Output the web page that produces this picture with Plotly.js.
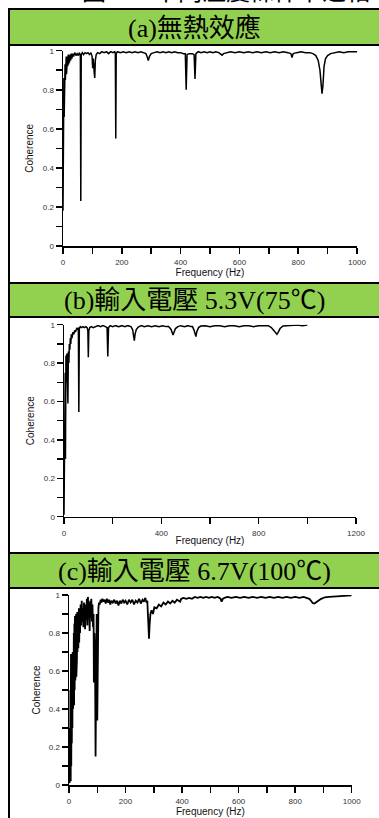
<!DOCTYPE html>
<html><head><meta charset="utf-8">
<script src="https://cdn.plot.ly/plotly-3.0.1.min.js"></script>
<style>html,body{margin:0;padding:0;background:#fff;overflow:hidden}#chart{width:379px;height:818px}</style>
</head><body><div id="chart"></div>
<script>
// ---- data: panel (a) 無熱效應 ----
const aFreq = [0,1,2,3,4,5,6,7,8,9,
  10,11,12,13,14,15,16,18,19,21,
  22,24,26,28,30,33,36,40,44,48,
  52,56,59,60.5,62,66,70,75,80,85,
  90,95,99,101,103,106,108,110,113,118,
  125,132,140,148,155,162,170,176,178,179.5,
  181,185,195,205,215,225,235,245,255,265,
  275,282,286,290,294,300,310,320,330,340,
  350,360,370,380,390,400,410,416,419,422,
  430,440,446,449,452,460,470,480,490,500,
  510,520,530,536,541,546,555,570,585,600,
  615,630,645,660,675,690,705,720,735,750,
  765,775,779,783,795,810,825,840,850,860,
  868,874,878,881,884,888,893,900,910,925,
  940,955,970,985,1000];
const aCoh = [0.18,0.72,0.4,0.86,0.66,0.9,0.78,0.93,0.85,0.96,
  0.87,0.97,0.88,0.95,0.9,0.97,0.92,0.98,0.93,0.975,
  0.94,0.98,0.95,0.985,0.96,0.985,0.97,0.99,0.975,0.985,
  0.975,0.99,0.975,0.23,0.98,0.99,0.98,0.99,0.985,0.99,
  0.98,0.99,0.97,0.91,0.96,0.89,0.86,0.95,0.98,0.99,
  0.985,0.995,0.99,0.995,0.985,0.995,0.99,0.995,0.985,0.55,
  0.985,0.995,0.99,0.995,0.99,0.995,0.99,0.995,0.99,0.995,
  0.99,0.985,0.97,0.95,0.97,0.985,0.99,0.995,0.99,0.995,
  0.99,0.995,0.99,0.995,0.99,0.99,0.985,0.985,0.8,0.98,
  0.985,0.985,0.98,0.855,0.985,0.995,0.99,0.995,0.99,0.995,
  0.99,0.995,0.99,0.985,0.977,0.985,0.99,0.995,0.99,0.995,
  0.99,0.995,0.99,0.995,0.99,0.995,0.99,0.995,0.99,0.995,
  0.99,0.985,0.965,0.985,0.99,0.995,0.99,0.99,0.985,0.975,
  0.95,0.9,0.83,0.78,0.82,0.92,0.96,0.975,0.985,0.99,
  0.995,0.99,0.995,0.995,0.995];

// ---- data: panel (b) 輸入電壓 5.3V(75℃) ----
const bFreq = [0,2,3,5,6,8,10,12,14,16,
  18,20,22,24,26,28,30,33,36,40,
  44,48,52,56,59,61,63,67,72,78,
  84,90,95,98,100,102,106,112,120,130,
  140,150,160,170,177,180,183,190,200,212,
  225,238,250,262,275,282,286,289,292,297,
  305,318,330,345,360,375,390,405,420,430,
  440,445,448,452,458,468,480,495,510,520,
  528,535,540,542,546,553,562,580,600,620,
  640,660,680,700,720,740,760,780,800,820,
  840,852,862,870,875,880,888,900,920,940,
  960,980,1000];
const bCoh = [0.01,0.6,0.1,0.75,0.3,0.84,0.7,0.85,0.62,0.59,
  0.86,0.8,0.9,0.87,0.93,0.9,0.95,0.93,0.96,0.95,
  0.97,0.965,0.98,0.975,0.985,0.545,0.98,0.99,0.985,0.99,
  0.985,0.99,0.985,0.97,0.83,0.97,0.985,0.99,0.985,0.99,
  0.995,0.99,0.995,0.99,0.985,0.835,0.985,0.995,0.99,0.995,
  0.99,0.995,0.99,0.995,0.99,0.975,0.95,0.917,0.95,0.975,
  0.988,0.995,0.99,0.995,0.99,0.995,0.99,0.995,0.99,0.99,
  0.975,0.955,0.946,0.96,0.98,0.99,0.995,0.99,0.995,0.99,
  0.99,0.97,0.945,0.938,0.965,0.985,0.993,0.995,0.99,0.995,
  0.995,0.99,0.995,0.995,0.99,0.995,0.995,0.99,0.995,0.995,
  0.995,0.985,0.97,0.955,0.95,0.96,0.98,0.993,0.995,0.995,
  0.998,0.995,0.998];

// ---- data: panel (c) 輸入電壓 6.7V(100℃) ----
const cFreq = [0,1,2,3,4,5,6,7,8,9,
  10,11,12,13,14,15,16,17,18,19,
  20,21,22,23,24,25,26,27,28,29,
  30,32,33,35,36,38,39,41,43,45,
  47,49,51,53,55,57,59,61,63,65,
  67,69,71,73,75,77,79,81,83,85,
  87,88,90,92,94,96,98,100,102,104,
  106,109,112,115,118,122,126,130,134,138,
  142,146,150,155,160,165,170,175,180,185,
  190,195,200,206,212,218,224,230,236,242,
  248,254,260,265,270,274,277,280,282,283,
  285,288,292,297,302,310,318,326,334,342,
  350,358,366,374,382,390,393,397,405,415,
  425,435,445,455,465,475,485,495,505,515,
  525,532,536,540,544,550,560,575,590,605,
  620,635,650,665,680,695,710,725,740,755,
  770,785,800,815,830,840,850,856,862,868,
  874,882,892,905,920,935,950,965,980,1000];
const cCoh = [0.02,0.05,0.01,0.3,0.03,0.5,0.02,0.69,0.1,0.6,
  0.22,0.68,0.3,0.7,0.4,0.66,0.45,0.8,0.42,0.85,
  0.5,0.89,0.55,0.87,0.58,0.9,0.57,0.88,0.66,0.91,
  0.7,0.9,0.72,0.93,0.75,0.92,0.8,0.95,0.84,0.97,
  0.86,0.93,0.83,0.96,0.85,0.82,0.95,0.87,0.98,0.84,
  0.99,0.9,0.96,0.81,0.97,0.88,0.98,0.86,0.95,0.83,
  0.9,0.54,0.8,0.7,0.15,0.82,0.9,0.34,0.88,0.93,
  0.96,0.95,0.975,0.96,0.98,0.965,0.975,0.955,0.98,0.96,
  0.975,0.95,0.97,0.96,0.975,0.955,0.97,0.945,0.97,0.955,
  0.975,0.96,0.97,0.95,0.975,0.96,0.975,0.95,0.97,0.96,
  0.98,0.955,0.975,0.965,0.985,0.96,0.97,0.9,0.8,0.77,
  0.84,0.9,0.92,0.9,0.935,0.93,0.95,0.94,0.96,0.95,
  0.965,0.955,0.97,0.96,0.975,0.97,0.965,0.98,0.985,0.98,
  0.985,0.98,0.99,0.985,0.99,0.985,0.99,0.985,0.99,0.985,
  0.99,0.985,0.98,0.965,0.98,0.985,0.99,0.985,0.99,0.985,
  0.99,0.985,0.99,0.985,0.99,0.985,0.99,0.985,0.99,0.985,
  0.99,0.985,0.99,0.985,0.99,0.985,0.98,0.97,0.958,0.955,
  0.96,0.97,0.98,0.988,0.99,0.992,0.995,0.995,0.997,0.998];

const headers = ['(a)無熱效應', '(b)輸入電壓 5.3V(75℃)', '(c)輸入電壓 6.7V(100℃)'];
const xTitle = 'Frequency (Hz)';
const yTitle = 'Coherence';
const topCaption = '圖4.20 不同溫度條件下之相干函數選擇頻率比較';

// ---- layout helpers ----
const W = 379, H = 818;
const fx = p => p / W;
const fy = p => 1 - p / H;
const sans = 'Liberation Sans, Arial, sans-serif';
const serif = 'Liberation Serif, Times New Roman, Noto Sans CJK TC, serif';

function xAxis(domain, range, dtick, minorDtick, anchor) {
  return {
    domain: domain, range: range, anchor: anchor, tick0: 0, dtick: dtick,
    showline: true, linecolor: '#000', linewidth: 1.5, mirror: false,
    ticks: 'outside', ticklen: 6, tickwidth: 1.5, tickcolor: '#000',
    minor: {ticks: 'outside', dtick: minorDtick, tick0: 0, ticklen: 6, tickwidth: 1.5, tickcolor: '#000', showgrid: false},
    showgrid: false, zeroline: false, fixedrange: true,
    tickfont: {family: sans, size: 8, color: '#333'}, ticklabelstandoff: 2,
    title: {text: xTitle, font: {family: sans, size: 10, color: '#111'}, standoff: 0}
  };
}
function yAxis(domain, anchor, standoff) {
  return {
    domain: domain, range: [0, 1], anchor: anchor, tick0: 0, dtick: 0.2,
    showline: true, linecolor: '#000', linewidth: 1.5,
    ticks: 'outside', ticklen: 6, tickwidth: 1.5, tickcolor: '#000',
    minor: {ticks: 'outside', dtick: 0.1, tick0: 0, ticklen: 6, tickwidth: 1.5, tickcolor: '#000', showgrid: false},
    showgrid: false, zeroline: false, fixedrange: true,
    tickfont: {family: sans, size: 8, color: '#333'},
    title: {text: yTitle, font: {family: sans, size: 10, color: '#111'}, standoff: standoff}
  };
}

const line = {color: '#000', width: 1.5};
const traces = [
  {x: aFreq, y: aCoh, type: 'scatter', mode: 'lines', line: line, xaxis: 'x', yaxis: 'y'},
  {x: bFreq, y: bCoh, type: 'scatter', mode: 'lines', line: line, xaxis: 'x2', yaxis: 'y2'},
  {x: cFreq, y: cCoh, type: 'scatter', mode: 'lines', line: {color: '#000', width: 1.8}, xaxis: 'x3', yaxis: 'y3'}
];

const headerBoxes = [[9, 45], [283, 317], [553, 588]];
const shapes = headerBoxes.map(b => ({
  type: 'rect', xref: 'paper', yref: 'paper', layer: 'below',
  x0: fx(9), x1: fx(382), y0: fy(b[1]), y1: fy(b[0]),
  fillcolor: '#92d050', line: {color: '#000', width: 2}
}));
shapes.push({type: 'line', xref: 'paper', yref: 'paper', x0: fx(9), x1: fx(9), y0: fy(9), y1: fy(820), line: {color: '#000', width: 2}});

const annotations = headers.map((t, i) => ({
  text: t, xref: 'paper', yref: 'paper', showarrow: false,
  x: fx(194.5), y: fy((headerBoxes[i][0] + headerBoxes[i][1]) / 2 + 1),
  xanchor: 'center', yanchor: 'middle',
  font: {family: serif, size: 26, color: '#000'}
}));
annotations.push({
  text: topCaption, xref: 'paper', yref: 'paper', showarrow: false,
  x: fx(80), y: fy(7), xanchor: 'left', yanchor: 'bottom',
  font: {family: serif, size: 24, color: '#000'}
});

const layout = {
  width: W, height: H, margin: {l: 0, r: 0, t: 0, b: 0},
  paper_bgcolor: '#fff', plot_bgcolor: 'rgba(0,0,0,0)', showlegend: false,
  xaxis: xAxis([fx(63), fx(357)], [0, 1000], 200, 100, 'y'),
  yaxis: yAxis([fy(246), fy(50.7)], 'x', 7),
  xaxis2: xAxis([fx(64), fx(356)], [0, 1200], 400, 200, 'y2'),
  yaxis2: yAxis([fy(516.7), fy(324.7)], 'x2', 7),
  xaxis3: xAxis([fx(69), fx(351.7)], [0, 1000], 200, 100, 'y3'),
  yaxis3: yAxis([fy(785), fy(595)], 'x3', 6),
  shapes: shapes, annotations: annotations
};

Plotly.newPlot('chart', traces, layout, {staticPlot: true, displayModeBar: false});
</script></body></html>
